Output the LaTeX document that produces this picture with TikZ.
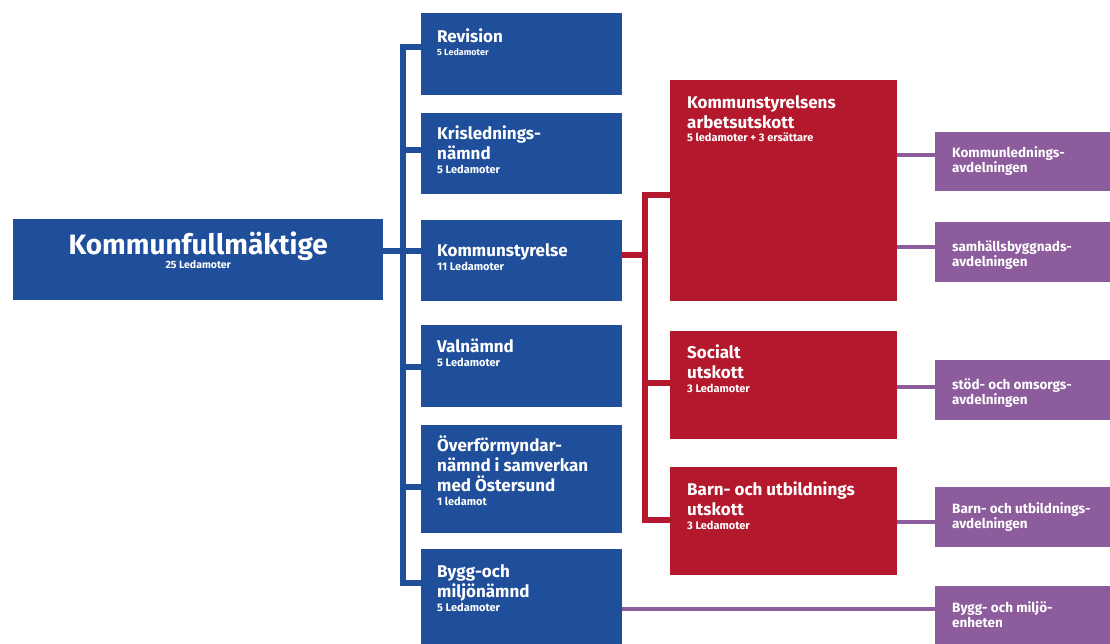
\documentclass[tikz,border=0pt]{standalone}
\usepackage{fontspec}
\setmainfont{Fira Sans}
\usepackage{tikz}

\definecolor{orgblue}{RGB}{31,78,155}
\definecolor{orgred}{RGB}{180,24,44}
\definecolor{orgpurple}{RGB}{141,92,157}

\newcommand{\subfont}{\fontsize{11}{12}\selectfont}

\begin{document}
\begin{tikzpicture}[x=1pt,y=-1pt,
    box/.style={rectangle,inner sep=0pt,anchor=north west},
    bluebox/.style={box,fill=orgblue,minimum width=201pt},
    redbox/.style={box,fill=orgred,minimum width=227pt},
    purplebox/.style={box,fill=orgpurple,minimum width=185pt,minimum height=60pt},
    boxtext/.style={anchor=base west,inner sep=0pt,align=left,text=white,
        font=\fontsize{17}{20}\selectfont\bfseries},
    avdtext/.style={anchor=base west,inner sep=0pt,align=left,text=white,
        font=\fontsize{13.5}{15}\selectfont\bfseries},
    blueline/.style={draw=orgblue,line width=5.5pt},
    redline/.style={draw=orgred,line width=5.5pt},
    purpleline/.style={draw=orgpurple,line width=4.5pt}]
    \clip (0,0) rectangle (1110,643);
    \fill[white] (0,0) rectangle (1110,643);

    % Kommunfullmaktige
    \node[bluebox,minimum width=370pt,minimum height=81pt] (kf) at (13,219) {};
    \node[anchor=base,inner sep=0pt,align=center,text=white,font=\fontsize{28}{28}\selectfont\bfseries]
        (kfT) at ([shift={(0,49)}]kf.north) {Kommunfullmäktige\\[-14pt]{\fontsize{10.5}{11}\selectfont 25 Ledamoter}};

    % Blue column
    \node[bluebox,minimum height=82pt] (rev) at (421,13) {};
    \node[bluebox,minimum height=81pt] (kris) at (421,113) {};
    \node[bluebox,minimum height=81pt] (ks) at (421,220) {};
    \node[bluebox,minimum height=82pt] (val) at (421,325) {};
    \node[bluebox,minimum height=108pt] (over) at (421,425) {};
    \node[bluebox,minimum height=110pt] (bygg) at (421,549) {};

    \node[boxtext] (revT) at ([shift={(16,42)}]rev.north west) {Revision\\[-7pt]{\fontsize{9}{10}\selectfont 5 Ledamoter}};
    \node[boxtext] (krisT) at ([shift={(16,60)}]kris.north west) {Krislednings-\\nämnd\\[-6pt]{\subfont 5 Ledamoter}};
    \node[boxtext] (ksT) at ([shift={(16,50)}]ks.north west) {Kommunstyrelse\\[-6pt]{\subfont 11 Ledamoter}};
    \node[boxtext] (valT) at ([shift={(16,41)}]val.north west) {Valnämnd\\[-6pt]{\subfont 5 Ledamoter}};
    \node[boxtext] (overT) at ([shift={(16,80)}]over.north west) {Överförmyndar-\\nämnd i samverkan\\med Östersund\\[-6pt]{\subfont 1 ledamot}};
    \node[boxtext] (byggT) at ([shift={(16,62)}]bygg.north west) {Bygg-och\\miljönämnd\\[-6pt]{\subfont 5 Ledamoter}};

    % Red column
    \node[redbox,minimum height=221pt] (ksau) at (670,80) {};
    \node[redbox,minimum height=108pt] (soc) at (670,331) {};
    \node[redbox,minimum height=108pt] (barn) at (670,467) {};

    \node[boxtext] (ksauT) at ([shift={(17,61)}]ksau.north west) {Kommunstyrelsens\\arbetsutskott\\[-7pt]{\subfont 5 ledamoter + 3 ersättare}};
    \node[boxtext] (socT) at ([shift={(17,61)}]soc.north west) {Socialt\\utskott\\[-6pt]{\subfont 3 Ledamoter}};
    \node[boxtext] (barnT) at ([shift={(17,62)}]barn.north west) {Barn- och utbildnings\\utskott\\[-6pt]{\subfont 3 Ledamoter}};

    % Purple column
    \node[purplebox,minimum height=59pt] (kled) at (935,132) {};
    \node[purplebox] (samh) at (935,222) {};
    \node[purplebox] (stod) at (935,360) {};
    \node[purplebox] (barnavd) at (935,487) {};
    \node[purplebox] (miljo) at (935,586) {};

    \node[avdtext] (kledT) at ([shift={(17,40)}]kled.north west) {Kommunlednings-\\avdelningen};
    \node[avdtext] (samhT) at ([shift={(17,44)}]samh.north west) {samhällsbyggnads-\\avdelningen};
    \node[avdtext] (stodT) at ([shift={(17,44)}]stod.north west) {stöd- och omsorgs-\\avdelningen};
    \node[avdtext] (barnavdT) at ([shift={(17,41)}]barnavd.north west) {Barn- och utbildnings-\\avdelningen};
    \node[avdtext] (miljoT) at ([shift={(17,41)}]miljo.north west) {Bygg- och miljö-\\enheten};

    % Draw blue lines
    \coordinate (bus) at (403,0);
    \draw[blueline] (rev.west |- 0,47) -- (bus |- 0,47) -- (bus |- 0,583) -- (bygg.west |- 0,583);
    \draw[blueline] (bus |- 0,150) -- (kris.west |- 0,150);
    \draw[blueline] (kf.east |- 0,251) -- (ks.west |- 0,251);
    \draw[blueline] (bus |- 0,367) -- (val.west |- 0,367);
    \draw[blueline] (bus |- 0,487) -- (over.west |- 0,487);

    % Draw red lines
    \coordinate (redbus) at (645,0);
    \draw[redline] (ksau.west |- 0,195) -- (redbus |- 0,195) -- (redbus |- 0,520) -- (barn.west |- 0,520);
    \draw[redline] (ks.east |- 0,255) -- (redbus |- 0,255);
    \draw[redline] (redbus |- 0,383) -- (soc.west |- 0,383);

    % Draw purple lines
    \draw[purpleline] (ksau.east |- 0,155) -- (kled.west |- 0,155);
    \draw[purpleline] (ksau.east |- 0,247) -- (samh.west |- 0,247);
    \draw[purpleline] (soc.east |- 0,387) -- (stod.west |- 0,387);
    \draw[purpleline] (barn.east |- 0,522) -- (barnavd.west |- 0,522);
    \draw[purpleline] (bygg.east |- 0,609) -- (miljo.west |- 0,609);
\end{tikzpicture}
\end{document}
